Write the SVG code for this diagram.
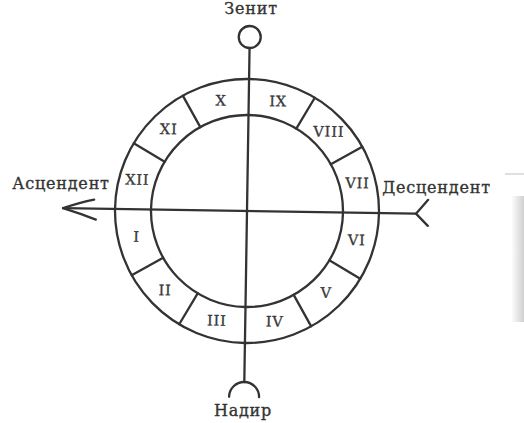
<svg xmlns="http://www.w3.org/2000/svg" width="524" height="423" viewBox="0 0 524 423">
  <defs>
    <linearGradient id="band" x1="0" y1="0" x2="1" y2="0">
      <stop offset="0" stop-color="#ffffff"/>
      <stop offset="1" stop-color="#d0d0d0"/>
    </linearGradient>
  </defs>
  <style>
    .ln { fill: none; stroke: #333333; stroke-width: 2.3; stroke-linecap: round; stroke-linejoin: round; }
    .num { font-family: "DejaVu Serif", "Liberation Serif", serif; font-size: 14.5px; fill: #383838; stroke: #383838; stroke-width: 0.3; text-anchor: middle; letter-spacing: 0.8px; }
    .lbl { font-family: "DejaVu Serif", "Liberation Serif", serif; font-size: 16px; fill: #333333; stroke: #333333; stroke-width: 0.35; text-anchor: middle; letter-spacing: 0.8px; }
  </style>
  <rect width="524" height="423" fill="#ffffff"/>
  <rect x="511" y="196" width="13" height="126" fill="url(#band)"/>
  <line x1="505" y1="174" x2="524" y2="174" stroke="#d6d6d6" stroke-width="1.5"/>

  <g transform="rotate(0.9 247 211)">
    <g id="connectors">
      <line class="ln" x1="247" y1="48" x2="247" y2="382"/>
      <line class="ln" x1="63" y1="211" x2="416" y2="211"/>
      <path class="ln" d="M94,202 Q80,205 63,211 Q80,216 96,222"/>
      <path class="ln" d="M428,197 L416,211 L428,223"/>
    </g>

    <g id="wheel">
      <circle class="ln" cx="247" cy="211" r="132"/>
      <circle class="ln" cx="247" cy="211" r="96"/>
      <g id="dividers">
        <line class="ln" x1="295" y1="127.9" x2="313" y2="96.7"/>
        <line class="ln" x1="330.1" y1="163" x2="361.3" y2="145"/>
        <line class="ln" x1="330.1" y1="259" x2="361.3" y2="277"/>
        <line class="ln" x1="295" y1="294.1" x2="313" y2="325.3"/>
        <line class="ln" x1="199" y1="294.1" x2="181" y2="325.3"/>
        <line class="ln" x1="163.9" y1="259" x2="132.7" y2="277"/>
        <line class="ln" x1="163.9" y1="163" x2="132.7" y2="145"/>
        <line class="ln" x1="199" y1="127.9" x2="181" y2="96.7"/>
      </g>
      <g id="houses">
        <text class="num" x="357.1" y="186.5">VII</text>
        <text class="num" x="327.6" y="135.4">VIII</text>
        <text class="num" x="276.5" y="105.9">IX</text>
        <text class="num" x="219.5" y="105.9">X</text>
        <text class="num" x="167.4" y="135.4">XI</text>
        <text class="num" x="136.9" y="186.5">XII</text>
        <text class="num" x="136.9" y="243.5">I</text>
        <text class="num" x="166.4" y="296.6">II</text>
        <text class="num" x="218.5" y="326.1">III</text>
        <text class="num" x="276.5" y="326.1">IV</text>
        <text class="num" x="327.6" y="296.6">V</text>
        <text class="num" x="357.1" y="243.5">VI</text>
      </g>
    </g>

    <g id="zenith-symbol">
      <circle class="ln" cx="247" cy="37" r="11"/>
    </g>
    <g id="nadir-symbol">
      <path class="ln" d="M232,397 A15,15 0 0 1 262,397"/>
    </g>
  </g>

  <g id="zenith"><text class="lbl" x="251" y="14">Зенит</text></g>
  <g id="ascendant"><text class="lbl" x="61" y="188.5">Асцендент</text></g>
  <g id="descendant"><text class="lbl" x="436.5" y="193">Десцендент</text></g>
  <g id="nadir"><text class="lbl" x="243" y="415.5">Надир</text></g>
</svg>
